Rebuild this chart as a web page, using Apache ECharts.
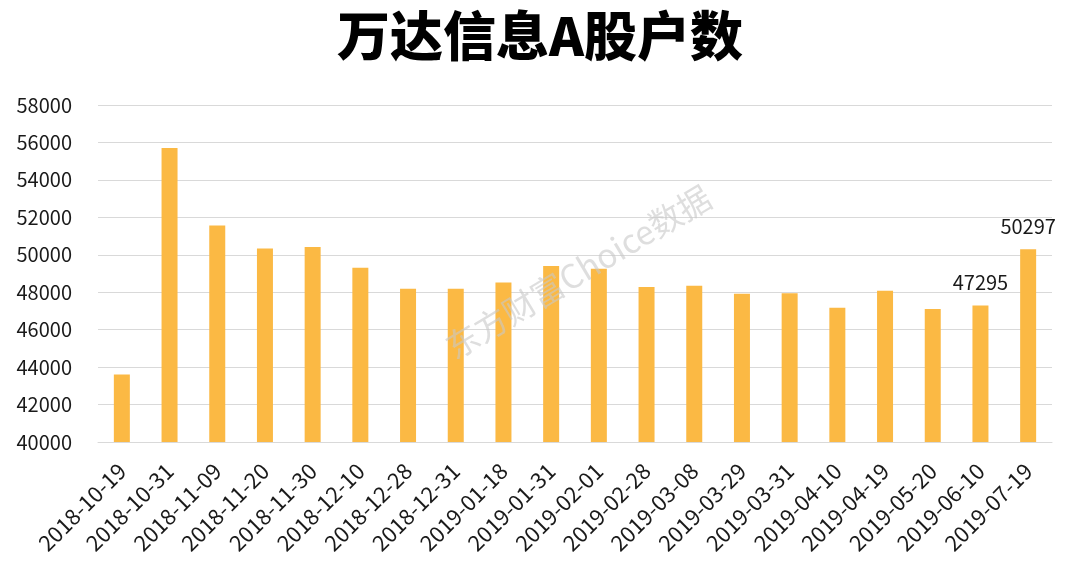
<!DOCTYPE html>
<html>
<head>
<meta charset="utf-8">
<script src="https://cdn.jsdelivr.net/npm/echarts@6/dist/echarts.min.js"></script>
<style>
html,body{margin:0;padding:0;background:#fff;}
#chart{width:1080px;height:564px;}
</style>
</head>
<body>
<div id="chart"></div>
<script>
var titleText = '万达信息A股户数';
var categories = ['2018-10-19','2018-10-31','2018-11-09','2018-11-20','2018-11-30','2018-12-10','2018-12-28','2018-12-31','2019-01-18','2019-01-31','2019-02-01','2019-02-28','2019-03-08','2019-03-29','2019-03-31','2019-04-10','2019-04-19','2019-05-20','2019-06-10','2019-07-19'];
var holders = [43610,55700,51570,50330,50420,49310,48190,48190,48520,49400,49260,48280,48350,47920,47940,47170,48080,47100,47295,50297];
var labelledIndexes = [18,19];
var yMin = 40000, yMax = 58000, yStep = 2000;
var watermark = '东方财富Choice数据';

var chart = echarts.init(document.getElementById('chart'));
var font = '"Noto Sans CJK SC", "Noto Sans", sans-serif';
chart.setOption({
  backgroundColor: '#ffffff',
  animation: false,
  title: {
    text: titleText,
    left: 'center',
    top: 4,
    textStyle: {fontFamily: font, fontSize: 53, fontWeight: 900, color: '#000000'}
  },
  grid: {left: 98, right: 28, top: 105, bottom: 122},
  xAxis: {
    type: 'category',
    data: categories,
    axisLine: {lineStyle: {color: '#d9d9d9'}},
    axisTick: {show: false},
    axisLabel: {rotate: 45, interval: 0, margin: 25, fontFamily: font, fontSize: 22, color: '#1a1a1a'}
  },
  yAxis: {
    type: 'value',
    min: yMin, max: yMax, interval: yStep,
    axisLine: {show: false},
    axisTick: {show: false},
    splitLine: {lineStyle: {color: '#d9d9d9', width: 1}},
    axisLabel: {margin: 26, fontFamily: font, fontSize: 20, color: '#1a1a1a', formatter: function (v) { return String(v); }}
  },
  series: [{
    type: 'bar',
    barWidth: 16,
    data: holders.map(function (v, i) {
      return {
        value: v,
        label: {show: labelledIndexes.indexOf(i) >= 0}
      };
    }),
    itemStyle: {color: '#FBB944'},
    label: {position: 'top', distance: 13, fontFamily: font, fontSize: 20, color: '#1a1a1a'}
  }],
  graphic: [{
    type: 'text',
    left: 440, top: 180,
    rotation: 0.54,
    z: 100,
    style: {text: watermark, fontFamily: font, fontSize: 33, fill: 'rgba(200,200,200,0.6)'}
  }]
});
</script>
</body>
</html>
